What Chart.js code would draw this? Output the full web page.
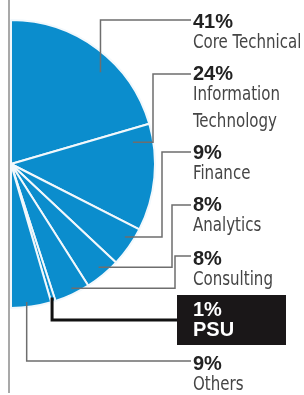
<!DOCTYPE html>
<html>
<head>
<meta charset="utf-8">
<script src="https://cdn.jsdelivr.net/npm/chart.js@4.4.1/dist/chart.umd.min.js"></script>
<style>
  html, body { margin: 0; padding: 0; background: #fff; }
  #wrap { position: relative; width: 304px; height: 395px; }
</style>
</head>
<body>
<div id="wrap"><canvas id="chart"></canvas></div>
<script>
const categories = [["Core Technical"], ["Information", "Technology"], ["Finance"], ["Analytics"], ["Consulting"], ["PSU"], ["Others"]];
const shares = [41, 24, 9, 8, 8, 1, 9];
const highlighted = "PSU";

// where each leader line leaves its slice and where its label sits
// t = position across the slice, r = fraction of the radius
const leaders = [
  { t: 0.6, r: 0.89, elbowX: null, lineY: 20, textY: 28 },
  { t: 0.14, r: 0.86, elbowX: 153, lineY: 74, textY: 80 },
  { t: 0.35, r: 0.94, elbowX: 162, lineY: 152, textY: 159 },
  { t: 0.45, r: 0.94, elbowX: 172, lineY: 205, textY: 211 },
  { t: 0.45, r: 0.96, elbowX: 175, lineY: 256, textY: 265 },
  { t: 0.5, r: 0.97, elbowX: null, lineY: 320, textY: 316 },
  { t: 0.6, r: 0.965, elbowX: null, lineY: 361, textY: 370 },
];

const textX = 193;
const pctFont = "bold 20px 'Liberation Sans', Arial, sans-serif";
const nameFont = "19px 'DejaVu Sans Condensed', 'DejaVu Sans', sans-serif";
const squeeze = 0.88; // the print face is a condensed one

function narrowText(ctx, str, x, y) {
  ctx.save();
  ctx.translate(x, y);
  ctx.scale(squeeze, 1);
  ctx.fillText(str, 0, 0);
  ctx.restore();
}

const sideLabels = {
  id: "sideLabels",
  afterDatasetsDraw(chart) {
    const ctx = chart.ctx;
    const arcs = chart.getDatasetMeta(0).data;
    ctx.save();

    // rule down the left edge
    ctx.strokeStyle = "#8c8c8c";
    ctx.lineWidth = 1.5;
    ctx.beginPath();
    ctx.moveTo(9, 0);
    ctx.lineTo(9, 393);
    ctx.stroke();

    arcs.forEach((arc, i) => {
      const L = leaders[i];
      const hot = categories[i][0] === highlighted;
      const a = arc.startAngle + L.t * (arc.endAngle - arc.startAngle);
      const ax = arc.x + Math.cos(a) * arc.outerRadius * L.r;
      const ay = arc.y + Math.sin(a) * arc.outerRadius * L.r;
      const ex = L.elbowX === null ? ax : L.elbowX;

      ctx.strokeStyle = hot ? "#111" : "#6e6e6e";
      ctx.lineWidth = hot ? 3 : 1.5;
      ctx.beginPath();
      ctx.moveTo(ax, ay);
      ctx.lineTo(ex, ay);
      ctx.lineTo(ex, L.lineY);
      ctx.lineTo(hot ? 177 : 191, L.lineY);
      ctx.stroke();

      if (hot) {
        ctx.fillStyle = "#1a1718";
        ctx.fillRect(177, 295, 109, 50);
      }

      ctx.textAlign = "left";
      ctx.textBaseline = "alphabetic";
      ctx.fillStyle = hot ? "#fff" : "#222";
      ctx.font = pctFont;
      ctx.fillText(shares[i] + "%", textX, L.textY);

      ctx.fillStyle = hot ? "#fff" : "#454545";
      categories[i].forEach((line, k) => {
        const y = L.textY + 20 + k * 27;
        if (hot) {
          ctx.font = pctFont;
          ctx.fillText(line, textX, y);
        } else {
          ctx.font = nameFont;
          narrowText(ctx, line, textX, y);
        }
      });
    });
    ctx.restore();
  }
};

new Chart(document.getElementById("chart"), {
  type: "pie",
  data: {
    labels: categories,
    datasets: [{
      data: shares,
      backgroundColor: "#0b8dcd",
      borderColor: "#f2f8fc",
      borderWidth: 2,
      hoverOffset: 0,
    }],
  },
  options: {
    responsive: true,
    maintainAspectRatio: false,
    animation: false,
    events: [],
    rotation: 0,
    circumference: 180,
    radius: 144,
    layout: { padding: { left: 10, right: 148, top: 20, bottom: 87 } },
    plugins: { legend: { display: false }, tooltip: { enabled: false } },
  },
  plugins: [sideLabels],
});
</script>
</body>
</html>
